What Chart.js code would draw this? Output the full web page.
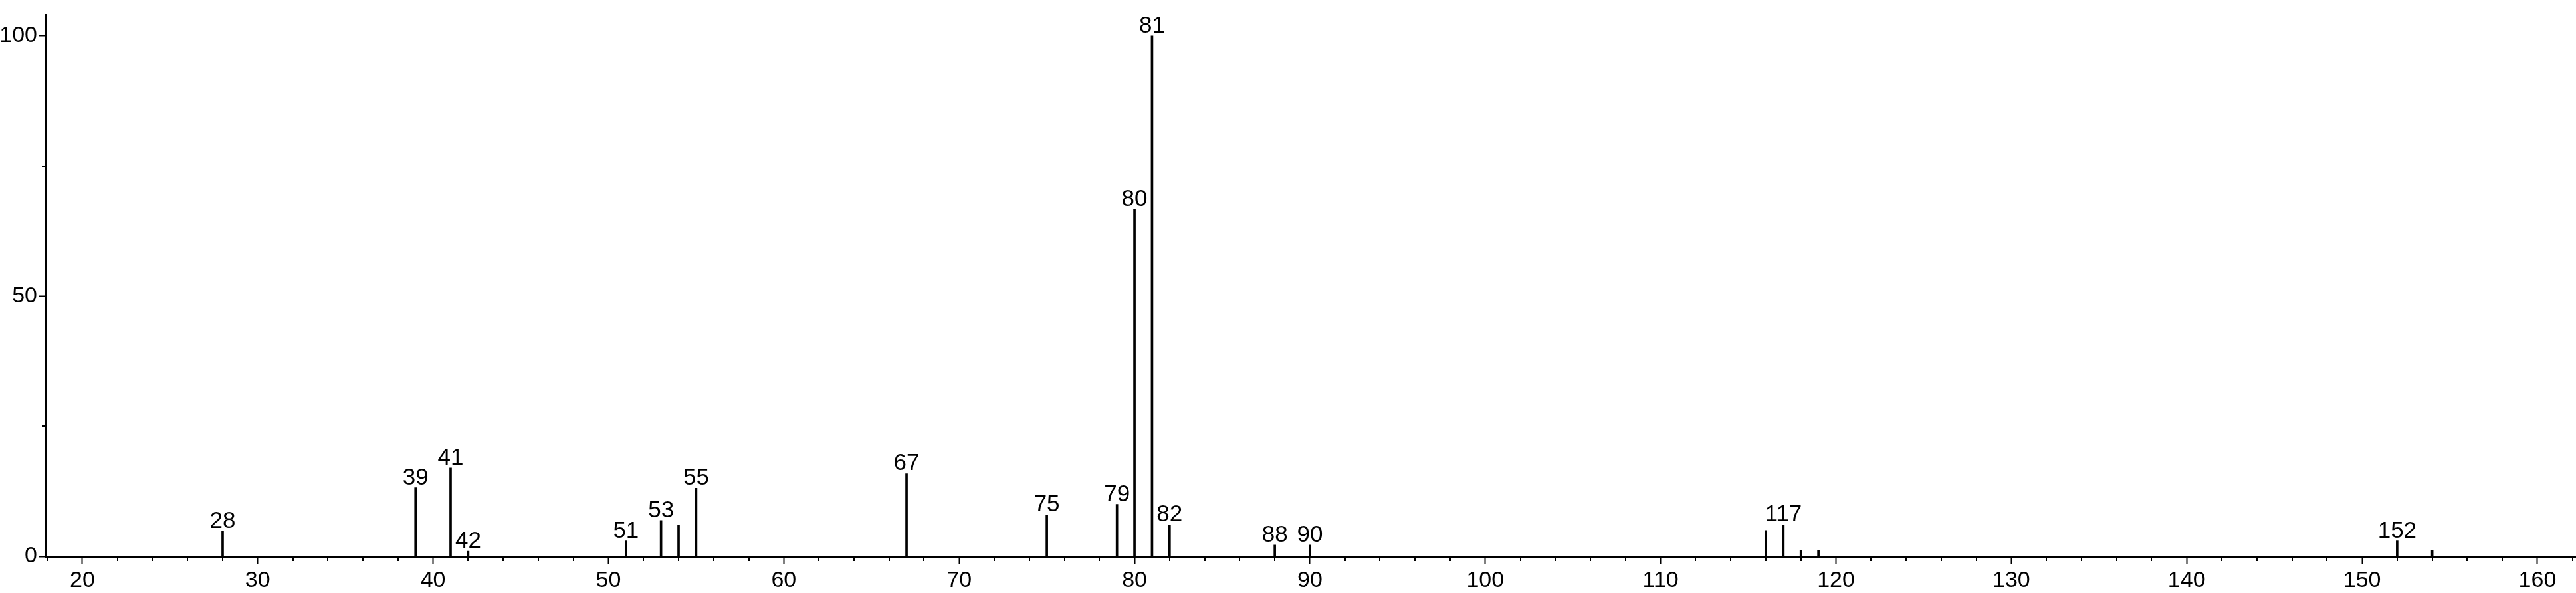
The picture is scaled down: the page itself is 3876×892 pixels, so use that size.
<!DOCTYPE html>
<html>
<head>
<meta charset="utf-8">
<script src="https://cdn.jsdelivr.net/npm/chart.js@4"></script>
<style>
  html, body { margin:0; padding:0; background:#fff; }
  #wrap { width:3876px; height:892px; position:relative; }
</style>
</head>
<body>
<div id="wrap"><canvas id="spectrum"></canvas></div>
<script>

// m/z values and relative intensities
const mzValues = [28, 39, 41, 42, 51, 53, 54, 55, 67, 75, 79, 80, 81, 82, 88, 90, 116, 117, 118, 119, 152, 154];
const intensities = [4.9, 13.2, 17.0, 1.0, 3.0, 6.9, 6.1, 13.1, 15.9, 8.0, 10.0, 66.6, 100, 6.1, 2.2, 2.2, 5.0, 6.1, 1.1, 1.1, 3.0, 1.1];

// peaks that carry a number label
const labeledPeaks = [28, 39, 41, 42, 51, 53, 55, 67, 75, 79, 80, 81, 82, 88, 90, 117, 152];

// tick values
const xMajorTicks = [20, 30, 40, 50, 60, 70, 80, 90, 100, 110, 120, 130, 140, 150, 160];
const xMinorTicks = [18, 22, 24, 26, 28, 32, 34, 36, 38, 42, 44, 46, 48, 52, 54, 56, 58, 62, 64, 66, 68,
                     72, 74, 76, 78, 82, 84, 86, 88, 92, 94, 96, 98, 102, 104, 106, 108, 112, 114, 116, 118,
                     122, 124, 126, 128, 132, 134, 136, 138, 142, 144, 146, 148, 152, 154, 156, 158, 162];
const yMajorTicks = [0, 50, 100];
const yMinorTicks = [25, 75];

const FONT = "'Liberation Sans', Arial, sans-serif";

// =============================
// PEAK LABELS + MINOR TICKS
// =============================

const peakLabels = {
    id:"peakLabels",
    afterDatasetsDraw(chart){
        const ctx = chart.ctx;
        const xs = chart.scales.x;
        const ys = chart.scales.y;
        ctx.save();
        ctx.fillStyle = "#000";
        ctx.font = "35px " + FONT;
        ctx.textAlign = "center";
        ctx.textBaseline = "alphabetic";
        mzValues.forEach((m,i)=>{
            if(!labeledPeaks.includes(m)) return;
            const px = xs.getPixelForValue(m);
            const py = ys.getPixelForValue(intensities[i]);
            ctx.fillText(String(m), px, py - 5);
        });
        ctx.restore();
    }
};

const minorTicks = {
    id:"minorTicks",
    afterDraw(chart){
        const ctx = chart.ctx;
        const area = chart.chartArea;
        const xs = chart.scales.x;
        const ys = chart.scales.y;
        ctx.save();
        ctx.strokeStyle = "#000";
        ctx.lineWidth = 2;
        ctx.beginPath();
        xMinorTicks.forEach(v=>{
            const px = Math.round(xs.getPixelForValue(v));
            ctx.moveTo(px, area.bottom);
            ctx.lineTo(px, area.bottom + 7);
        });
        yMinorTicks.forEach(v=>{
            const py = Math.round(ys.getPixelForValue(v));
            ctx.moveTo(area.left - 6, py);
            ctx.lineTo(area.left, py);
        });
        ctx.stroke();
        ctx.restore();
    }
};

const ctx = document.getElementById("spectrum").getContext("2d");

new Chart(ctx,{

    type:"bar",

    data:{
        datasets:[{
            data: mzValues.map((m,i)=>({x:m, y:intensities[i]})),
            backgroundColor:"#000",
            borderWidth:0,
            barThickness:3
        }]
    },

    options:{
        responsive:true,
        maintainAspectRatio:false,
        animation:false,
        layout:{ padding:{ top:5, right:0, left:0, bottom:0 } },
        plugins:{
            legend:{ display:false },
            tooltip:{ enabled:false }
        },
        scales:{
            x:{
                type:"linear",
                offset:false,
                min:17.92,
                max:162.2,
                afterBuildTicks(axis){
                    axis.ticks = xMajorTicks.map(v=>({value:v}));
                },
                afterFit(axis){ axis.height = 55; },
                border:{ display:true, color:"#000", width:3 },
                grid:{
                    display:true,
                    offset:false,
                    drawOnChartArea:false,
                    drawTicks:true,
                    tickLength:12,
                    tickWidth:2,
                    tickColor:"#000"
                },
                ticks:{
                    color:"#000",
                    font:{ family:FONT, size:34 },
                    padding:4,
                    maxRotation:0,
                    autoSkip:false
                }
            },
            y:{
                min:0,
                max:104,
                afterBuildTicks(axis){
                    axis.ticks = yMajorTicks.map(v=>({value:v}));
                },
                afterFit(axis){ axis.width = 69; },
                border:{ display:true, color:"#000", width:3 },
                grid:{
                    display:true,
                    drawOnChartArea:false,
                    drawTicks:true,
                    tickLength:11,
                    tickWidth:2,
                    tickColor:"#000"
                },
                ticks:{
                    color:"#000",
                    font:{ family:FONT, size:34 },
                    padding:2
                }
            }
        }
    },

    plugins:[peakLabels, minorTicks]

});

</script>
</body>
</html>
